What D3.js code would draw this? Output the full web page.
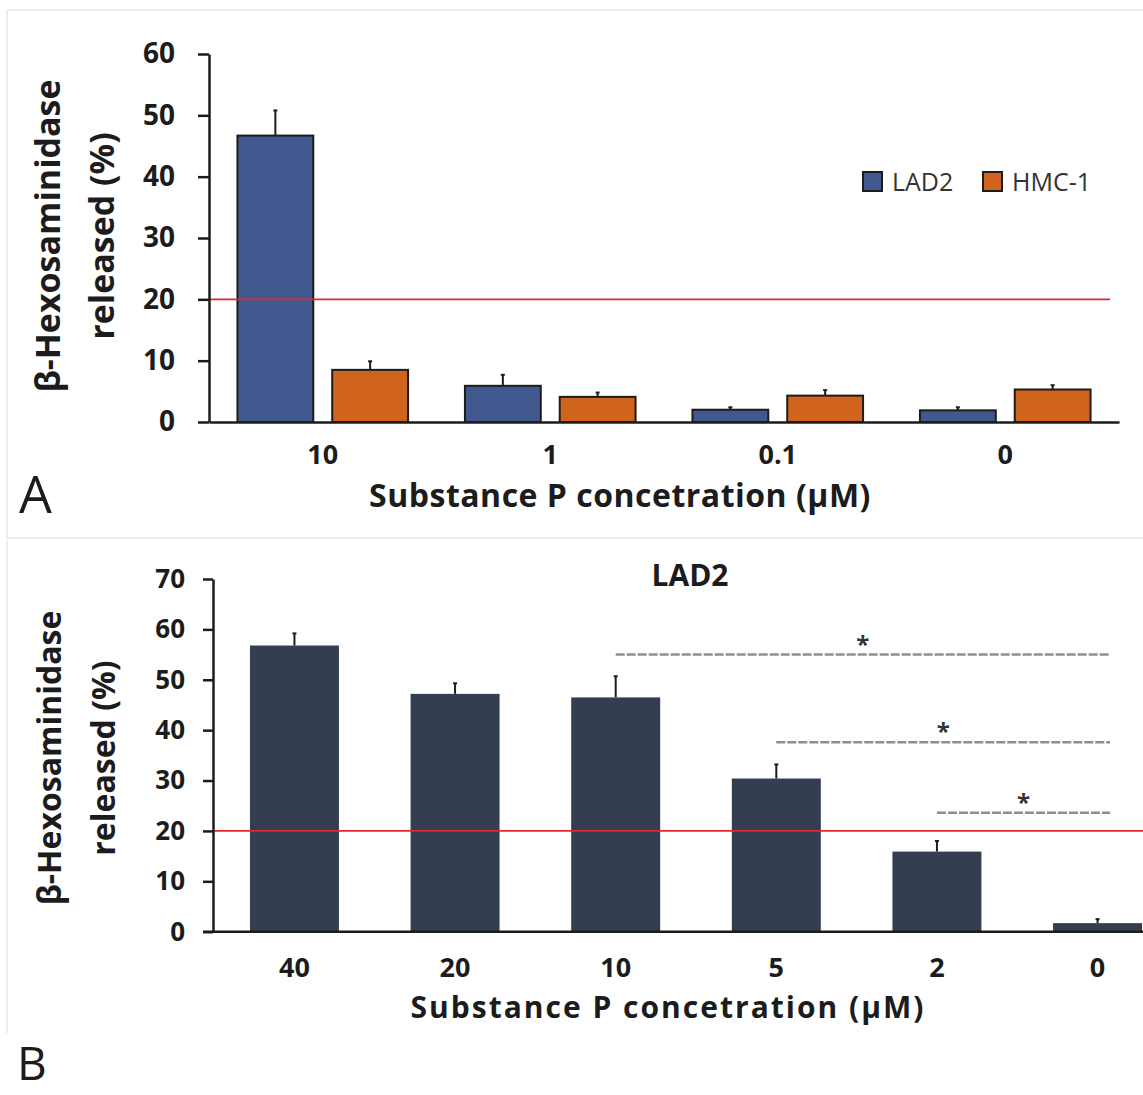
<!DOCTYPE html>
<html>
<head>
<meta charset="utf-8">
<script src="https://cdn.jsdelivr.net/npm/d3@7"></script>
<style>
  html, body { margin: 0; padding: 0; background: #fff; }
  svg { display: block; font-family: "Open Sans", sans-serif; }
</style>
</head>
<body>
<svg id="chart" width="1143" height="1095"></svg>
<script>
'use strict';

// panel A : LAD2 vs HMC-1
var concA = ['10', '1', '0.1', '0'];
var seriesA = ['LAD2', 'HMC-1'];
var lad2A = [46.7, 5.9, 2.0, 1.9];
var lad2AErr = [4.1, 1.8, 0.4, 0.5];
var hmc1A = [8.5, 4.1, 4.3, 5.3];
var hmc1AErr = [1.4, 0.7, 0.9, 0.7];
var ticksA = [0, 10, 20, 30, 40, 50, 60];

// panel B : LAD2 dose response
var concB = ['40', '20', '10', '5', '2', '0'];
var lad2B = [56.8, 47.2, 46.5, 30.4, 15.9, 1.7];
var lad2BErr = [2.4, 2.1, 4.2, 2.8, 2.1, 0.8];
var ticksB = [0, 10, 20, 30, 40, 50, 60, 70];
var sigB = [
  { from: '10', to: '0', level: 55.0 },
  { from: '5', to: '0', level: 37.6 },
  { from: '2', to: '0', level: 23.6 }
];

var threshold = 20;

var colors = { 'LAD2': '#41588f', 'HMC-1': '#d0641c' };
var ink = '#1c1c1c';

var svg = d3.select('#chart');

// faint frame lines of the original figure
var frame = svg.append('g').attr('stroke', '#ececec').attr('stroke-width', 2);
frame.append('line').attr('x1', 7).attr('x2', 1143).attr('y1', 10).attr('y2', 10);
frame.append('line').attr('x1', 7).attr('x2', 7).attr('y1', 10).attr('y2', 538);
frame.append('line').attr('x1', 7).attr('x2', 1143).attr('y1', 538).attr('y2', 538);
frame.append('line').attr('x1', 7).attr('x2', 7).attr('y1', 540).attr('y2', 1033);

function styleAxis(g, size) {
  g.selectAll('path, line').attr('stroke', ink).attr('stroke-width', 2.5);
  g.selectAll('text')
    .attr('fill', ink)
    .attr('font-family', '"Open Sans", sans-serif')
    .attr('font-weight', 700)
    .attr('font-size', size);
}

function yTitle(g, cy, x1, x2, size) {
  g.append('text')
    .attr('transform', 'translate(' + x1 + ',' + cy + ') rotate(-90)')
    .attr('text-anchor', 'middle').attr('font-weight', 700).attr('font-size', size)
    .attr('fill', ink).text('β-Hexosaminidase');
  g.append('text')
    .attr('transform', 'translate(' + x2 + ',' + cy + ') rotate(-90)')
    .attr('text-anchor', 'middle').attr('font-weight', 700).attr('font-size', size)
    .attr('fill', ink).text('released (%)');
}

/* ---------------- panel A ---------------- */
var gA = svg.append('g');

var yA = d3.scaleLinear().domain([0, 60]).range([422, 54]);
var xA = d3.scaleBand().domain(concA).range([209, 1119]).paddingInner(0.25).paddingOuter(0.125);
var xA1 = d3.scaleBand().domain(seriesA).range([0, xA.bandwidth()]).paddingInner(0.2);

var rowsA = concA.map(function (c, i) {
  return [
    { conc: c, series: 'LAD2', value: lad2A[i], err: lad2AErr[i] },
    { conc: c, series: 'HMC-1', value: hmc1A[i], err: hmc1AErr[i] }
  ];
});
var flatA = d3.merge(rowsA);

// error bars first, bars on top hide the lower half
var errA = gA.append('g').attr('stroke', ink).attr('stroke-width', 2);
errA.selectAll('line.v').data(flatA).enter().append('line')
  .attr('class', 'v')
  .attr('x1', function (d) { return xA(d.conc) + xA1(d.series) + xA1.bandwidth() / 2; })
  .attr('x2', function (d) { return xA(d.conc) + xA1(d.series) + xA1.bandwidth() / 2; })
  .attr('y1', function (d) { return yA(d.value); })
  .attr('y2', function (d) { return yA(d.value + d.err); });
errA.selectAll('line.cap').data(flatA).enter().append('line')
  .attr('class', 'cap')
  .attr('x1', function (d) { return xA(d.conc) + xA1(d.series) + xA1.bandwidth() / 2 - 2; })
  .attr('x2', function (d) { return xA(d.conc) + xA1(d.series) + xA1.bandwidth() / 2 + 2; })
  .attr('y1', function (d) { return yA(d.value + d.err); })
  .attr('y2', function (d) { return yA(d.value + d.err); });

gA.append('g').selectAll('rect').data(flatA).enter().append('rect')
  .attr('x', function (d) { return xA(d.conc) + xA1(d.series); })
  .attr('y', function (d) { return yA(d.value); })
  .attr('width', xA1.bandwidth())
  .attr('height', function (d) { return yA(0) - yA(d.value); })
  .attr('fill', function (d) { return colors[d.series]; })
  .attr('stroke', ink).attr('stroke-width', 2);

// threshold line
gA.append('line')
  .attr('x1', xA.range()[0]).attr('x2', xA.range()[1] - 9)
  .attr('y1', yA(threshold)).attr('y2', yA(threshold))
  .attr('stroke', '#e3262f').attr('stroke-width', 1.8);

var axYA = gA.append('g').attr('transform', 'translate(209,0)')
  .call(d3.axisLeft(yA).tickValues(ticksA).tickSize(11).tickSizeOuter(0).tickPadding(23));
styleAxis(axYA, 28);

var axXA = gA.append('g').attr('transform', 'translate(0,' + yA(0) + ')')
  .call(d3.axisBottom(xA).tickSize(0).tickSizeOuter(0).tickPadding(23));
styleAxis(axXA, 27);

gA.append('text').attr('x', 620).attr('y', 507).attr('text-anchor', 'middle')
  .attr('font-weight', 700).attr('font-size', 32).attr('letter-spacing', 0.5).attr('fill', ink)
  .text('Substance P concetration (µM)');

yTitle(gA, 236, 60, 114, 34);

// legend
var legA = gA.append('g').selectAll('g').data(seriesA).enter().append('g')
  .attr('transform', function (d, i) { return 'translate(' + (863 + i * 120) + ',172)'; });
legA.append('rect').attr('width', 19).attr('height', 19)
  .attr('fill', function (d) { return colors[d]; })
  .attr('stroke', ink).attr('stroke-width', 2);
legA.append('text').attr('x', 29).attr('y', 18.5)
  .attr('font-size', 25).attr('fill', '#333').text(function (d) { return d; });

gA.append('text').attr('x', 19).attr('y', 513).attr('font-size', 52).attr('fill', ink).text('A');

/* ---------------- panel B ---------------- */
var gB = svg.append('g');

var yB = d3.scaleLinear().domain([0, 70]).range([931.7, 579]);
var xB = d3.scaleBand().domain(concB).range([213, 1179]).paddingInner(0.446).paddingOuter(0.23);

var rowsB = concB.map(function (c, i) {
  return { conc: c, value: lad2B[i], err: lad2BErr[i] };
});

var errB = gB.append('g').attr('stroke', ink).attr('stroke-width', 2);
errB.selectAll('line.v').data(rowsB).enter().append('line')
  .attr('class', 'v')
  .attr('x1', function (d) { return xB(d.conc) + xB.bandwidth() / 2; })
  .attr('x2', function (d) { return xB(d.conc) + xB.bandwidth() / 2; })
  .attr('y1', function (d) { return yB(d.value); })
  .attr('y2', function (d) { return yB(d.value + d.err); });
errB.selectAll('line.cap').data(rowsB).enter().append('line')
  .attr('class', 'cap')
  .attr('x1', function (d) { return xB(d.conc) + xB.bandwidth() / 2 - 2; })
  .attr('x2', function (d) { return xB(d.conc) + xB.bandwidth() / 2 + 2; })
  .attr('y1', function (d) { return yB(d.value + d.err); })
  .attr('y2', function (d) { return yB(d.value + d.err); });

gB.append('g').selectAll('rect').data(rowsB).enter().append('rect')
  .attr('x', function (d) { return xB(d.conc); })
  .attr('y', function (d) { return yB(d.value); })
  .attr('width', xB.bandwidth())
  .attr('height', function (d) { return yB(0) - yB(d.value); })
  .attr('fill', '#333f50');

gB.append('line')
  .attr('x1', xB.range()[0]).attr('x2', 1143)
  .attr('y1', yB(threshold)).attr('y2', yB(threshold))
  .attr('stroke', '#e3262f').attr('stroke-width', 1.8);

// significance brackets
var sigG = gB.append('g');
var sigEnd = function (d) { return xB(d.to) + xB.bandwidth() * 0.64; };
var sigStart = function (d) { return xB(d.from) + xB.bandwidth() / 2; };
sigG.selectAll('line').data(sigB).enter().append('line')
  .attr('x1', sigStart).attr('x2', sigEnd)
  .attr('y1', function (d) { return yB(d.level); })
  .attr('y2', function (d) { return yB(d.level); })
  .attr('stroke', '#8e8e8e').attr('stroke-width', 2.5).attr('stroke-dasharray', '9,2');
sigG.selectAll('text').data(sigB).enter().append('text')
  .attr('x', function (d) { return (sigStart(d) + sigEnd(d)) / 2; })
  .attr('y', function (d) { return yB(d.level) - 2; })
  .attr('text-anchor', 'middle').attr('font-size', 24).attr('font-weight', 700)
  .attr('fill', '#333').text('*');

var axYB = gB.append('g').attr('transform', 'translate(213,0)')
  .call(d3.axisLeft(yB).tickValues(ticksB).tickSize(10).tickSizeOuter(0).tickPadding(18));
styleAxis(axYB, 26);

var axXB = gB.append('g').attr('transform', 'translate(0,' + yB(0) + ')')
  .call(d3.axisBottom(xB).tickSize(0).tickSizeOuter(0).tickPadding(26));
styleAxis(axXB, 27);
// axis line runs off the right edge of the figure
axXB.select('.domain').attr('d', 'M' + (xB.range()[0] - 10) + ',0H1143');

gB.append('text').attr('x', 668).attr('y', 1018).attr('text-anchor', 'middle')
  .attr('font-weight', 700).attr('font-size', 30).attr('letter-spacing', 2).attr('fill', ink)
  .text('Substance P concetration (µM)');

gB.append('text').attr('x', 690).attr('y', 586).attr('text-anchor', 'middle')
  .attr('font-weight', 700).attr('font-size', 30).attr('fill', ink).text('LAD2');

yTitle(gB, 758, 61, 115, 32);

gB.append('text').attr('x', 17).attr('y', 1080).attr('font-size', 46).attr('fill', ink).text('B');
</script>
</body>
</html>
